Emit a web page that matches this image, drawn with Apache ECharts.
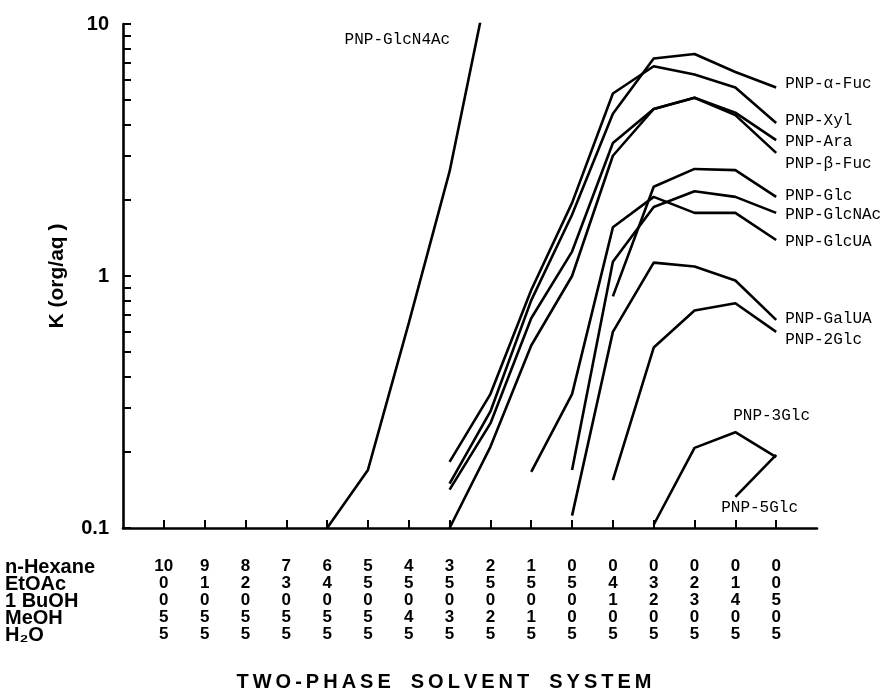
<!DOCTYPE html>
<html><head><meta charset="utf-8">
<script src="https://cdn.jsdelivr.net/npm/echarts@6/dist/echarts.min.js"></script>
<style>html,body{margin:0;padding:0;background:#fff}#c{width:888px;height:694px}</style>
</head><body><div id="c"></div><script>
// Solvent composition table (16 systems)
const hexane = [10,9,8,7,6,5,4,3,2,1,0,0,0,0,0,0];
const etoac  = [0,1,2,3,4,5,5,5,5,5,5,4,3,2,1,0];
const buoh   = [0,0,0,0,0,0,0,0,0,0,0,1,2,3,4,5];
const meoh   = [5,5,5,5,5,5,4,3,2,1,0,0,0,0,0,0];
const water  = [5,5,5,5,5,5,5,5,5,5,5,5,5,5,5,5];
const rowNames = ['n-Hexane','EtOAc','1 BuOH','MeOH','H\u2082O'];
const yTickValues = [0.1,0.2,0.3,0.4,0.5,0.6,0.7,0.8,0.9,1,2,3,4,5,6,7,8,9,10];
const yLabelValues = [0.1,1,10];

// K (org/aq) values per system (null = not measured)
const N = null;
const glcN4Ac = [N,N,N,N,0.1,0.17,0.65,2.6,16,N,N,N,N,N,N,N];
const aFuc   = [N,N,N,N,N,N,N,0.15,0.29,0.80,1.75,4.4,7.3,7.6,6.45,5.6];
const xyl    = [N,N,N,N,N,N,N,0.183,0.34,0.88,1.95,5.3,6.8,6.3,5.6,4.05];
const ara    = [N,N,N,N,N,N,N,0.142,0.26,0.68,1.25,3.37,4.6,5.1,4.45,3.46];
const bFuc   = [N,N,N,N,N,N,N,0.1,0.21,0.53,1.0,3.0,4.6,5.1,4.35,3.08];
const glc    = [N,N,N,N,N,N,N,N,N,N,N,0.83,2.26,2.66,2.63,2.06];
const glcNAc = [N,N,N,N,N,N,N,N,N,N,0.17,1.14,1.88,2.17,2.06,1.78];
const glcUA  = [N,N,N,N,N,N,N,N,N,0.167,0.34,1.56,2.06,1.78,1.78,1.39];
const galUA  = [N,N,N,N,N,N,N,N,N,N,0.112,0.60,1.13,1.09,0.96,0.67];
const glc2   = [N,N,N,N,N,N,N,N,N,N,N,0.155,0.52,0.73,0.78,0.60];
const glc3   = [N,N,N,N,N,N,N,N,N,N,N,N,0.103,0.208,0.24,0.191];
const glc5   = [N,N,N,N,N,N,N,N,N,N,N,N,N,N,0.133,0.195];

const names = ['PNP-GlcN4Ac','PNP-\u03b1-Fuc','PNP-Xyl','PNP-Ara','PNP-\u03b2-Fuc','PNP-Glc','PNP-GlcNAc','PNP-GlcUA','PNP-GalUA','PNP-2Glc','PNP-3Glc','PNP-5Glc'];
const seriesData = [glcN4Ac,aFuc,xyl,ara,bFuc,glc,glcNAc,glcUA,galUA,glc2,glc3,glc5];
const labelOffsets = [null,[9,-4],[9,-2],[9,2],[9,11],[9,-1],[9,2],[9,2],[9,-1],[9,8],[-43,-41],[-55,53]];

const cats = ['']; for (let i=1;i<=16;i++) cats.push(String(i)); cats.push('');
const sansBold = '"Liberation Sans Narrow","Liberation Sans",Arial,sans-serif';
const mono = '"Liberation Mono","DejaVu Sans Mono",monospace';
const spaced = (s) => s.split(' ').map(w => w.split('').join('\u2009')).join('\u2002\u2002');

const series = seriesData.map((arr, si) => {
  const s = {
    name: names[si], type: 'line', data: [N].concat(arr).concat([N]),
    symbol: 'none', showSymbol: false,
    connectNulls: false, clip: true, silent: true,
    lineStyle: {color: '#000', width: 2.6}
  };
  if (labelOffsets[si]) {
    s.endLabel = {show: true, formatter: names[si], distance: 0, offset: labelOffsets[si],
      fontFamily: mono, fontSize: 16, color: '#000', align: 'left', verticalAlign: 'middle'};
  } else {
    s.markPoint = {symbol: 'circle', symbolSize: 0, silent: true,
      data: [{coord: [8, arr[7]], label: {show: true, position: 'right', distance: 0, offset: [-105, -132],
        formatter: names[si], fontFamily: mono, fontSize: 16, color: '#000'}}]};
  }
  return s;
});

const chart = echarts.init(document.getElementById('c'), null, {renderer: 'canvas'});
chart.setOption({
  animation: false,
  backgroundColor: '#fff',
  grid: {left: 123, right: 71, top: 24, bottom: 166, containLabel: false},
  xAxis: {
    type: 'category', data: cats, boundaryGap: false,
    axisLine: {lineStyle: {color: '#000', width: 2.6}},
    axisTick: {inside: true, length: 8, lineStyle: {color: '#000', width: 2},
      interval: (idx) => idx >= 1 && idx <= 16},
    axisLabel: {
      interval: 0, margin: 30, color: '#000', fontFamily: sansBold, fontWeight: 'bold',
      fontSize: 17, lineHeight: 17,
      formatter: (v, idx) => {
        if (idx < 1 || idx > 16) return '';
        const i = idx - 1;
        return [hexane[i], etoac[i], buoh[i], meoh[i], water[i]].join('\n');
      }
    },
    splitLine: {show: false}
  },
  yAxis: {
    type: 'log', logBase: 10, min: 0.1, max: 10,
    name: 'K (org/aq )', nameLocation: 'middle', nameGap: 55, nameRotate: 90,
    nameTextStyle: {color: '#000', fontFamily: '"Liberation Sans",sans-serif', fontWeight: 'bold', fontSize: 21},
    axisLine: {show: true, lineStyle: {color: '#000', width: 2.6}},
    axisTick: {show: true, inside: true, length: 8, lineStyle: {color: '#000', width: 2}, customValues: yTickValues},
    axisLabel: {color: '#000', fontFamily: sansBold, fontWeight: 'bold', fontSize: 20, margin: 14,
      customValues: yLabelValues, formatter: (v) => String(+v.toPrecision(2))},
    splitLine: {show: false}
  },
  graphic: [
    {type: 'text', left: 5, top: 557, style: {text: rowNames.join('\n'), lineHeight: 17,
      font: 'bold 20px ' + sansBold, fill: '#000'}},
    {type: 'text', left: 'center', top: 672, style: {text: spaced('TWO-PHASE SOLVENT SYSTEM'),
      font: 'bold 20px "Liberation Sans",sans-serif', fill: '#000'}}
  ],
  series: series
});
</script></body></html>
